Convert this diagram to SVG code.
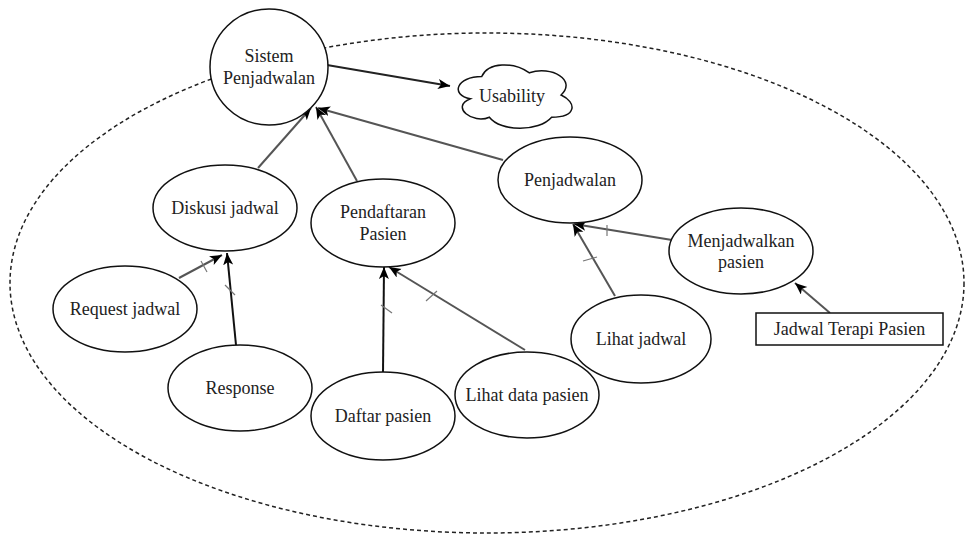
<svg xmlns="http://www.w3.org/2000/svg" width="965" height="541" viewBox="0 0 965 541">
  <style>
    .node { fill: #fff; stroke: #111; stroke-width: 1.5; }
    .label { font-size: 18px; fill: #222; text-anchor: middle; }
    .link { fill: none; stroke: #555; stroke-width: 2; }
    .dark { stroke: #111; }
    .tick { fill: none; stroke: #777; stroke-width: 1.2; }
    .boundary { fill: none; stroke: #222; stroke-width: 1.5; stroke-dasharray: 4 3; }
  </style>
  <defs>
    <marker id="arrow" markerUnits="userSpaceOnUse" markerWidth="14" markerHeight="12" refX="12" refY="5" orient="auto">
      <path d="M0,0 L12,5 L0,10 L3,5 Z" fill="#000"/>
    </marker>
  </defs>

  <rect width="965" height="541" fill="#fff"/>

  <!-- system boundary -->
  <ellipse class="boundary" cx="487" cy="283" rx="477" ry="250"/>

  <!-- connectors -->
  <g id="connectors">
    <line class="link" x1="327" y1="65" x2="450" y2="86" marker-end="url(#arrow)" style="stroke:#222"/>
    <line class="link" x1="258" y1="168" x2="311" y2="108" marker-end="url(#arrow)"/>
    <line class="link" x1="357" y1="181" x2="316" y2="107" marker-end="url(#arrow)"/>
    <line class="link" x1="503" y1="160" x2="318" y2="108" marker-end="url(#arrow)"/>

    <line class="link" x1="179" y1="278" x2="222" y2="255" marker-end="url(#arrow)"/>
    <line class="link dark" x1="236" y1="345" x2="227" y2="253" marker-end="url(#arrow)"/>
    <line class="link dark" x1="383" y1="373" x2="384" y2="267" marker-end="url(#arrow)"/>
    <line class="link" x1="525" y1="350" x2="389" y2="267" marker-end="url(#arrow)"/>
    <line class="link" x1="615" y1="296" x2="573" y2="224" marker-end="url(#arrow)"/>
    <line class="link" x1="672" y1="240" x2="574" y2="224" marker-end="url(#arrow)"/>
    <line class="link" x1="830" y1="313" x2="795" y2="283" marker-end="url(#arrow)"/>

    <!-- crossing marks -->
    <line class="tick" x1="201" y1="261" x2="207" y2="272"/>
    <line class="tick" x1="225" y1="285" x2="235" y2="295"/>
    <line class="tick" x1="381" y1="305" x2="392" y2="313"/>
    <line class="tick" x1="426" y1="301" x2="437" y2="291"/>
    <line class="tick" x1="583" y1="261" x2="597" y2="257"/>
    <line class="tick" x1="607" y1="225" x2="607" y2="236"/>
  </g>

  <g font-family="'Liberation Serif', 'DejaVu Serif', 'Times New Roman', serif">
    <g id="sistem-penjadwalan">
      <ellipse class="node" cx="269" cy="67" rx="59" ry="58"/>
      <text class="label" x="269" y="62">Sistem</text>
      <text class="label" x="269" y="84">Penjadwalan</text>
    </g>

    <g id="usability">
      <path class="node" d="M481.75,76.5 C456.35,76.5 450,95 470.32,98.7 C450,106.84 472.86,124.6 489.37,117.2 C500.8,132 538.9,132 551.6,117.2 C577,117.2 577,102.4 561.1,95 C577,80.2 551.6,65.4 529.4,72.8 C513.5,61.7 488.1,61.7 481.75,76.5 Z"/>
      <text class="label" x="512" y="102">Usability</text>
    </g>

    <g id="diskusi-jadwal">
      <ellipse class="node" cx="225" cy="208" rx="72" ry="43"/>
      <text class="label" x="225" y="214">Diskusi jadwal</text>
    </g>

    <g id="pendaftaran-pasien">
      <ellipse class="node" cx="383" cy="223" rx="72" ry="44"/>
      <text class="label" x="383" y="218">Pendaftaran</text>
      <text class="label" x="383" y="240">Pasien</text>
    </g>

    <g id="penjadwalan">
      <ellipse class="node" cx="570" cy="180" rx="72" ry="43"/>
      <text class="label" x="570" y="186">Penjadwalan</text>
    </g>

    <g id="menjadwalkan-pasien">
      <ellipse class="node" cx="741" cy="251" rx="72" ry="43"/>
      <text class="label" x="741" y="247">Menjadwalkan</text>
      <text class="label" x="741" y="268">pasien</text>
    </g>

    <g id="jadwal-terapi-pasien">
      <rect class="node" x="756" y="313" width="187" height="32"/>
      <text class="label" x="849.5" y="335">Jadwal Terapi Pasien</text>
    </g>

    <g id="request-jadwal">
      <ellipse class="node" cx="125" cy="309" rx="72" ry="43"/>
      <text class="label" x="125" y="315">Request jadwal</text>
    </g>

    <g id="response">
      <ellipse class="node" cx="240" cy="388" rx="72" ry="43"/>
      <text class="label" x="240" y="394">Response</text>
    </g>

    <g id="daftar-pasien">
      <ellipse class="node" cx="383" cy="416" rx="72" ry="44"/>
      <text class="label" x="383" y="422">Daftar pasien</text>
    </g>

    <g id="lihat-data-pasien">
      <ellipse class="node" cx="527" cy="395" rx="72" ry="43"/>
      <text class="label" x="527" y="401">Lihat data pasien</text>
    </g>

    <g id="lihat-jadwal">
      <ellipse class="node" cx="641" cy="339" rx="70" ry="44"/>
      <text class="label" x="641" y="345">Lihat jadwal</text>
    </g>
  </g>
</svg>
